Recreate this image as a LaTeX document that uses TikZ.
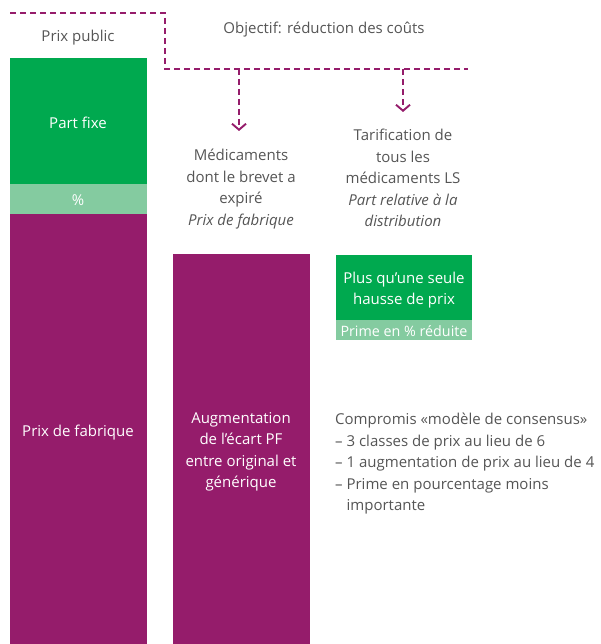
\documentclass[tikz,border=0pt]{standalone}
\usepackage{fontspec}
\setmainfont{Open Sans}
\usetikzlibrary{arrows.meta}
\definecolor{gr}{HTML}{00A94F}
\definecolor{lgr}{HTML}{84CBA0}
\definecolor{pu}{HTML}{951C6B}
\definecolor{tx}{HTML}{555555}
\newcommand\myfs{\fontsize{15}{21.5}\selectfont}
\tikzset{
  bar/.style={draw=none,inner sep=0pt,anchor=north west},
  wlbl/.style={text=white,align=center,inner sep=0pt,font=\myfs},
  lbl/.style={text=tx,align=center,inner sep=0pt,font=\myfs},
  dline/.style={pu,line width=1.9pt,dash pattern=on 6pt off 4pt},
  arr/.style={dline,-{Straight Barb[length=6pt,width=14pt,line width=1.9pt]}}
}
\begin{document}
\begin{tikzpicture}[x=1pt,y=-1pt]
\useasboundingbox (0,0) rectangle (601,644);
% left bar
\node[bar,fill=gr,minimum width=137pt,minimum height=126pt] (fixe) at (10,58) {};
\node[wlbl] (fixet) at (78,123) {Part fixe};
\node[bar,fill=lgr,minimum width=137pt,minimum height=30pt] (pct) at (10,184) {};
\node[wlbl] (pctt) at (78,200) {\%};
\node[bar,fill=pu,minimum width=137pt,minimum height=430pt] (pf) at (10,214) {};
\node[wlbl] (pft) at (78,433) {Prix de fabrique};
\node[lbl] (public) at (78,38) {Prix public};
% middle bar
\node[bar,fill=pu,minimum width=137pt,minimum height=390pt] (mid) at (173,254) {};
\node[wlbl] (midt) at (241,452) {Augmentation\\de l’écart PF\\entre original et\\générique};
% right box
\node[bar,fill=gr,minimum width=136pt,minimum height=65pt] (hausse) at (336,255) {};
\node[wlbl] (haussat) at (404,290) {Plus qu’une seule\\hausse de prix};
\node[bar,fill=lgr,minimum width=136pt,minimum height=20pt] (prime) at (336,320) {};
\node[wlbl,font=\fontsize{14.3}{21.5}\selectfont] (primet) at (404,331) {Prime en \% réduite};
% texts
\node[lbl] (obj) at (324,30) {Objectif: réduction des coûts};
\node[lbl] (med) at (241,189) {Médicaments\\dont le brevet a\\expiré\\\textit{Prix de fabrique}};
\node[lbl] (tarif) at (403,178) {Tarification de\\tous les\\médicaments LS\\\textit{Part relative à la}\\\textit{distribution}};
\node[lbl,align=left,anchor=west] (comp) at (335,464) {Compromis «modèle de consensus»\\– 3 classes de prix au lieu de 6\\– 1 augmentation de prix au lieu de 4\\– Prime en pourcentage moins\\\phantom{– }importante};
% dashed lines
\coordinate (s) at (10,13);
\coordinate (c1) at (165,13);
\coordinate (c2) at (165,69);
\coordinate (e) at (468,69);
\coordinate (j1) at (239,69);
\coordinate (j2) at (403,69);
\coordinate (t1) at (239,131);
\coordinate (t2) at (403,112);
\draw[dline] (s) -- (c1) -- (c2) -- (e);
\draw[arr] (j1) -- (t1);
\draw[arr] (j2) -- (t2);
\end{tikzpicture}
\end{document}
